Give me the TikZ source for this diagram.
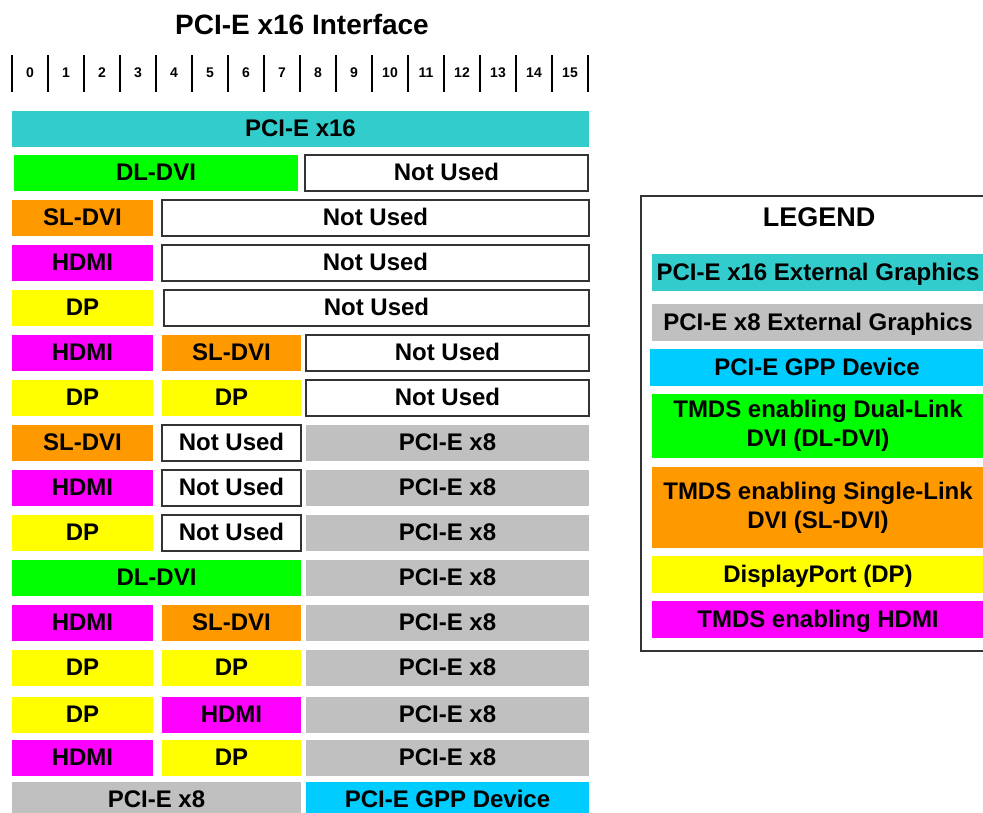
\documentclass[tikz,border=0pt]{standalone}
\usepackage{fontspec}
\setmainfont{Liberation Sans}

\definecolor{xsixteen}{HTML}{33CCCC}
\definecolor{xeight}{HTML}{C0C0C0}
\definecolor{gppdev}{HTML}{00CCFF}
\definecolor{dldvi}{HTML}{00FF00}
\definecolor{sldvi}{HTML}{FF9900}
\definecolor{dport}{HTML}{FFFF00}
\definecolor{hdmi}{HTML}{FF00FF}

\tikzset{
  lane/.style={rectangle,inner sep=0pt,minimum height=36pt,
    text height=17pt,text depth=2pt,
    font=\fontsize{24}{29}\selectfont\bfseries},
  x16lane/.style={lane,fill=xsixteen},
  x8lane/.style={lane,fill=xeight},
  gpplane/.style={lane,fill=gppdev},
  dllane/.style={lane,fill=dldvi},
  sllane/.style={lane,fill=sldvi},
  dplane/.style={lane,fill=dport},
  hdlane/.style={lane,fill=hdmi},
  unused/.style={lane,fill=white,draw=black!80,line width=1.2pt},
  colA/.style={minimum width=141pt},
  colB/.style={minimum width=139pt},
  colAB/.style={minimum width=289pt},
  colCD/.style={minimum width=283pt},
  colBD/.style={minimum width=427pt},
  keybox/.style={lane,minimum width=332pt},
  keytwo/.style={rectangle,inner sep=0pt,minimum width=332pt,align=center,
    font=\fontsize{24}{29}\selectfont\bfseries}
}

\begin{document}
\begin{tikzpicture}[x=1pt,y=-1pt]
  \clip (0,0) rectangle (983,813);

  \node (TITLE) at (302,24) [font=\fontsize{28}{32}\selectfont\bfseries] {PCI-E x16 Interface};

  % lane ruler
  \foreach \k in {0,...,16} {
    \draw[line width=2pt] (12+36*\k,55) -- (12+36*\k,92);
  }
  \foreach \k in {0,...,15} {
    \node (L\k) at (30+36*\k,73) [font=\fontsize{14}{16}\selectfont\bfseries] {\k};
  }

  % configurations
  \node (R01A) at (300.5,129.5) [x16lane,minimum width=577pt] {PCI-E x16};

  \node (R02A) at (156,173) [dllane,minimum width=284pt] {DL-DVI};
  \node (R02C) at (446.5,173) [unused,minimum width=283pt] {Not Used};

  \node (R03A) at (82.5,218) [sllane,colA] {SL-DVI};
  \node (R03B) at (375.5,218) [unused,colBD] {Not Used};

  \node (R04A) at (82.5,263) [hdlane,colA] {HDMI};
  \node (R04B) at (375.5,263) [unused,colBD] {Not Used};

  \node (R05A) at (82.5,308) [dplane,colA] {DP};
  \node (R05B) at (376.5,308) [unused,minimum width=425pt] {Not Used};

  \node (R06A) at (82.5,353) [hdlane,colA] {HDMI};
  \node (R06B) at (231.5,353) [sllane,colB] {SL-DVI};
  \node (R06C) at (447.5,353) [unused,colCD] {Not Used};

  \node (R07A) at (82.5,398) [dplane,colA] {DP};
  \node (R07B) at (231.5,398) [dplane,colB] {DP};
  \node (R07C) at (447.5,398) [unused,colCD] {Not Used};

  \node (R08A) at (82.5,443) [sllane,colA] {SL-DVI};
  \node (R08B) at (231.5,443) [unused,colB] {Not Used};
  \node (R08C) at (447.5,443) [x8lane,colCD] {PCI-E x8};

  \node (R09A) at (82.5,488) [hdlane,colA] {HDMI};
  \node (R09B) at (231.5,488) [unused,colB] {Not Used};
  \node (R09C) at (447.5,488) [x8lane,colCD] {PCI-E x8};

  \node (R10A) at (82.5,533) [dplane,colA] {DP};
  \node (R10B) at (231.5,533) [unused,colB] {Not Used};
  \node (R10C) at (447.5,533) [x8lane,colCD] {PCI-E x8};

  \node (R11A) at (156.5,578) [dllane,colAB] {DL-DVI};
  \node (R11C) at (447.5,578) [x8lane,colCD] {PCI-E x8};

  \node (R12A) at (82.5,623) [hdlane,colA] {HDMI};
  \node (R12B) at (231.5,623) [sllane,colB] {SL-DVI};
  \node (R12C) at (447.5,623) [x8lane,colCD] {PCI-E x8};

  \node (R13A) at (82.5,668) [dplane,colA] {DP};
  \node (R13B) at (231.5,668) [dplane,colB] {DP};
  \node (R13C) at (447.5,668) [x8lane,colCD] {PCI-E x8};

  \node (R14A) at (82.5,715) [dplane,colA] {DP};
  \node (R14B) at (231.5,715) [hdlane,colB] {HDMI};
  \node (R14C) at (447.5,715) [x8lane,colCD] {PCI-E x8};

  \node (R15A) at (82.5,758) [hdlane,colA] {HDMI};
  \node (R15B) at (231.5,758) [dplane,colB] {DP};
  \node (R15C) at (447.5,758) [x8lane,colCD] {PCI-E x8};

  \node (R16A) at (156.5,800) [x8lane,colAB] {PCI-E x8};
  \node (R16C) at (447.5,800) [gpplane,colCD] {PCI-E GPP Device};

  % legend
  \draw[black!80,line width=1.2pt] (641,196) rectangle (995,651);
  \node (LEG) at (819,217) [font=\fontsize{27}{30}\selectfont\bfseries] {LEGEND};

  \node (K1) at (818,272.5) [x16lane,keybox,minimum height=37pt] {PCI-E x16 External Graphics};
  \node (K2) at (818,322.5) [x8lane,keybox,minimum height=37pt] {PCI-E x8 External Graphics};
  \node (K3) at (817,367.5) [gpplane,keybox,minimum width=334pt,minimum height=37pt] {PCI-E GPP Device};
  \node (K4) at (818,426) [keytwo,fill=dldvi,minimum height=64pt] {TMDS enabling Dual-Link\\DVI (DL-DVI)};
  \node (K5) at (818,507.5) [keytwo,fill=sldvi,minimum height=81pt] {TMDS enabling Single-Link\\DVI (SL-DVI)};
  \node (K6) at (818,574.5) [dplane,keybox,minimum height=37pt] {DisplayPort (DP)};
  \node (K7) at (818,619.5) [hdlane,keybox,minimum height=37pt] {TMDS enabling HDMI};

\end{tikzpicture}
\end{document}
